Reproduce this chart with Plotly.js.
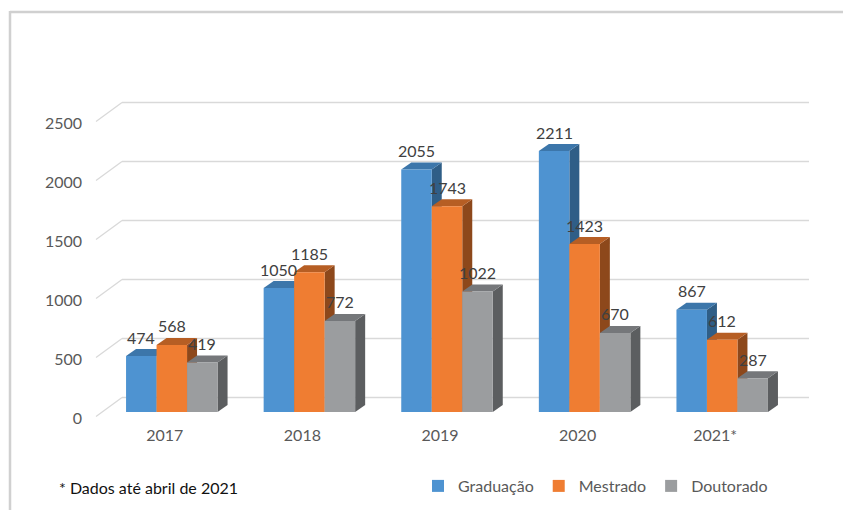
<!DOCTYPE html>
<html><head><meta charset="utf-8">
<script src="https://cdn.plot.ly/plotly-3.0.1.min.js"></script>
<style>html,body{margin:0;padding:0;background:#fff}</style>
</head><body><div id="chart" style="width:843px;height:510px"></div>
<script>
const categories = ['2017', '2018', '2019', '2020', '2021*'];
const graduacao = [474, 1050, 2055, 2211, 867];
const mestrado = [568, 1185, 1743, 1423, 612];
const doutorado = [419, 772, 1022, 670, 287];
const seriesNames = ['Graduação', 'Mestrado', 'Doutorado'];
const yTicks = [0, 500, 1000, 1500, 2000, 2500];
const footnote = '* Dados até abril de 2021';

const W = 843, H = 510, L = 103, R = 52, T = 117, B = 98;
const plotW = W - L - R, plotH = H - T - B;
const yMax = 2500;
const unitsPerPx = yMax / plotH;
const catPx = plotW / categories.length;
const pxX = p => (p - L) / plotW;
const pxY = p => (H - B - p) / plotH;
const valPx = v => (H - B) - v / unitsPerPx;

const frontColors = ['#4e93d1', '#ef7d32', '#9b9d9f'];
const topColors = ['#3c76aa', '#b65e24', '#75777a'];
const sideColors = ['#2f5e87', '#8d481b', '#5c5e60'];

const bargap = 0.335;
const bw = (1 - bargap) / 3;
const dX = 10 / catPx, dY = 7 * unitsPerPx;
const xIdx = categories.map((c, i) => i);
const allSeries = [graduacao, mestrado, doutorado];

const traces = allSeries.map((vals, s) => ({
  type: 'bar', x: xIdx, y: vals, name: seriesNames[s],
  marker: {color: frontColors[s], line: {width: 0}},
  hoverinfo: 'skip'
}));

const shapes = [];
const gridCol = '#d9d9d9';
// frame
shapes.push({type: 'line', xref: 'paper', yref: 'paper', x0: pxX(10), x1: pxX(843), y0: pxY(12), y1: pxY(12), line: {color: '#d0d0d0', width: 2.5}, layer: 'below'});
shapes.push({type: 'line', xref: 'paper', yref: 'paper', x0: pxX(10), x1: pxX(10), y0: pxY(11), y1: pxY(510), line: {color: '#d0d0d0', width: 2.5}, layer: 'below'});
// 3D walls gridlines
yTicks.forEach(v => {
  const yFront = pxY(valPx(v) + 4.5), yBack = pxY(valPx(v) - 14.5);
  shapes.push({type: 'line', xref: 'paper', yref: 'paper', x0: pxX(96), x1: pxX(122), y0: yFront, y1: yBack, line: {color: gridCol, width: 1.3}, layer: 'below'});
  shapes.push({type: 'line', xref: 'paper', yref: 'paper', x0: pxX(122), x1: pxX(809), y0: yBack, y1: yBack, line: {color: gridCol, width: 1.3}, layer: 'below'});
});
// bar depth faces
const f = n => n.toFixed(4);
xIdx.forEach(i => {
  allSeries.forEach((vals, s) => {
    const v = vals[i];
    const xl = i + (s - 1.5) * bw, xr = xl + bw;
    shapes.push({type: 'path', xref: 'x', yref: 'y', layer: 'below', line: {width: 0}, fillcolor: sideColors[s],
      path: `M${f(xr)},0 L${f(xr)},${f(v)} L${f(xr + dX)},${f(v + dY)} L${f(xr + dX)},${f(dY)} Z`});
    shapes.push({type: 'path', xref: 'x', yref: 'y', layer: 'below', line: {width: 0}, fillcolor: topColors[s],
      path: `M${f(xl)},${f(v)} L${f(xr)},${f(v)} L${f(xr + dX)},${f(v + dY)} L${f(xl + dX)},${f(v + dY)} Z`});
  });
});

const annotations = [];
xIdx.forEach(i => {
  allSeries.forEach((vals, s) => {
    annotations.push({x: i + (s - 1) * bw, y: vals[i], xref: 'x', yref: 'y', text: String(vals[i]), showarrow: false,
      yanchor: 'middle', xanchor: 'center', yshift: 19, font: {family: 'Lato', size: 16, color: '#404040'}});
  });
});
annotations.push({x: pxX(57), y: pxY(487), xref: 'paper', yref: 'paper', text: footnote, showarrow: false,
  xanchor: 'left', yanchor: 'middle', font: {family: 'Lato', size: 16, color: '#111111'}});

const layout = {
  width: W, height: H,
  margin: {l: L, r: R, t: T, b: B, pad: 0, autoexpand: false},
  paper_bgcolor: '#ffffff', plot_bgcolor: 'rgba(0,0,0,0)',
  font: {family: 'Lato', size: 16, color: '#595959'},
  barmode: 'group', bargap: bargap, bargroupgap: 0,
  xaxis: {range: [-0.5, 4.5], tickvals: xIdx, ticktext: categories, showgrid: false, zeroline: false, showline: false,
    ticks: '', ticklabelshift: -7, ticklabelstandoff: 12, tickfont: {family: 'Lato', size: 16, color: '#595959'}, fixedrange: true, automargin: false},
  yaxis: {range: [0, yMax], tickvals: yTicks, showgrid: false, zeroline: false, showline: false, ticks: '',
    ticklabelshift: 6, ticklabelstandoff: 20, tickfont: {family: 'Lato', size: 16, color: '#595959'}, fixedrange: true, automargin: false},
  showlegend: true,
  legend: {orientation: 'h', xref: 'container', yref: 'container', x: 418 / W, y: (H - 486) / H, xanchor: 'left', yanchor: 'middle', bgcolor: 'rgba(0,0,0,0)',
    font: {family: 'Lato', size: 16, color: '#595959'}, itemwidth: 30, traceorder: 'normal'},
  shapes: shapes,
  annotations: annotations
};
Plotly.newPlot('chart', traces, layout, {displayModeBar: false, staticPlot: true});
</script></body></html>
